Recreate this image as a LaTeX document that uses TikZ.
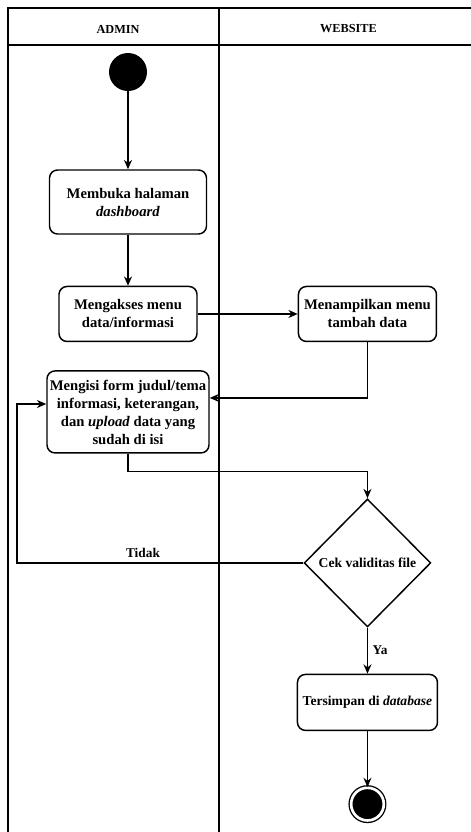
\documentclass[tikz,border=0pt]{standalone}
\usepackage{fontspec}
\setmainfont{Liberation Serif}[BoldFont={Liberation Serif Bold}, ItalicFont={Liberation Serif Italic}, BoldItalicFont={Liberation Serif Bold Italic}]
\usetikzlibrary{arrows.meta,positioning,shapes.geometric}
\tikzset{
  actbox/.style={draw, rounded corners=6pt, align=center, line width=1.1pt, inner sep=2pt, font=\rmfamily\bfseries\fontsize{11}{13.5}\selectfont},
  smallbox/.style={actbox, font=\rmfamily\bfseries\fontsize{10.2}{12.5}\selectfont},
  decide/.style={draw, diamond, line width=1.1pt, inner sep=0pt, minimum width=95pt, minimum height=96pt, font=\rmfamily\bfseries\fontsize{10.2}{12}\selectfont},
  startnode/.style={circle, fill=black, minimum size=28.5pt, inner sep=0pt},
  endnode/.style={circle, fill=black, draw=black, double=white, double distance=2pt, line width=1pt, minimum size=24.5pt, inner sep=0pt},
  flow/.style={-{Stealth[length=7pt,width=6pt]}, line width=1.1pt},
  lane/.style={line width=1.4pt},
  lanelabel/.style={font=\rmfamily\bfseries\fontsize{9.2}{11}\selectfont},
  flowlabel/.style={font=\rmfamily\bfseries\fontsize{10}{12}\selectfont}
}
\begin{document}
\begin{tikzpicture}[x=0.75pt, y=-0.75pt]
\useasboundingbox (0,0) rectangle (471,832);
% swimlanes
\draw[lane] (8,832) -- (8,8) -- (471,8);
\draw[lane] (8,45) -- (471,45);
\draw[lane] (219,8) -- (219,832);
\node[lanelabel] (admin) at (118,29) {ADMIN};
\node[lanelabel] (web) at (348.5,29) {WEBSITE};
% activities
\node[startnode] (start) at (128,72) {};
\node[actbox, minimum width=117.75pt, minimum height=48pt, below=58.5pt of start] (buka) {Membuka halaman\\\textit{dashboard}};
\node[actbox, minimum width=103.5pt, minimum height=41.25pt, below=38.25pt of buka] (akses) {Mengakses menu\\data/informasi};
\node[actbox, minimum width=103.5pt, minimum height=41.25pt, right=75pt of akses] (tampil) {Menampilkan menu\\tambah data};
\node[actbox, minimum width=121.5pt, minimum height=61.5pt, below=21pt of akses] (isi) {Mengisi form judul/tema\\informasi, keterangan,\\dan \textit{upload} data yang\\sudah di isi};
\node[decide, below=117pt of tampil] (cek) {Cek validitas file};
\node[smallbox, minimum width=105pt, minimum height=42pt, below=34.5pt of cek] (simpan) {Tersimpan di \textit{database}};
\node[endnode, below=42pt of simpan] (end) {};
\coordinate (back) at (17,404);
% flows
\draw[flow] (start) -- (buka);
\draw[flow] (buka) -- (akses);
\draw[flow] (akses) -- (tampil);
\draw[flow] (tampil.south) |- ([yshift=10.5pt]isi.east);
\draw[flow] (isi.south) -- ++(0,-13.5pt) -| (cek.north);
\draw[flow] (cek.west) -| node[flowlabel, above, pos=0.28] {Tidak} (back) -- (back -| isi.west);
\draw[flow] (cek.south) -- node[flowlabel, right] {Ya} (simpan.north);
\draw[flow] (simpan) -- (end);
\end{tikzpicture}
\end{document}
